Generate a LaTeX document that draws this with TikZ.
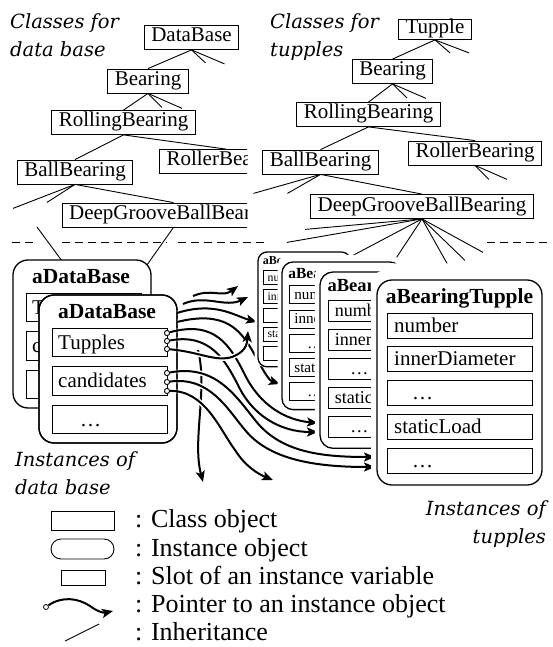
\documentclass[tikz,border=0pt]{standalone}
\usepackage{fontspec}
\setmainfont{Liberation Serif}
\newfontfamily\capfont{DejaVu Serif}
\usetikzlibrary{arrows.meta, calc}

\tikzset{
  cls/.style={draw, line width=0.8pt, font=\fontsize{21}{24}\selectfont, inner xsep=7pt, inner ysep=2.5pt, text height=14pt, text depth=5pt},
  inh/.style={line width=0.9pt},
  inst/.style={draw, line width=1.3pt, rounded corners=#1, fill=white},
  slot/.style={draw, line width=1pt, fill=white},
  slottxt/.style={font=\fontsize{21}{24}\selectfont, anchor=base west, inner sep=0pt},
  ttl/.style={font=\bfseries\fontsize{21.5}{24}\selectfont, anchor=base, inner sep=0pt},
  ptr/.style={line width=2pt, -{Stealth[length=11pt,width=9pt,inset=2.5pt]}, preaction={draw=white, line width=5pt, -}},
  hole/.style={draw, circle, line width=0.8pt, fill=white, inner sep=0pt, minimum size=5pt},
  lbl/.style={font=\capfont\itshape\fontsize{19.5}{28}\selectfont, inner sep=0pt},
  sep/.style={line width=0.9pt, dash pattern=on 8pt off 5pt},
  key/.style={font=\fontsize{26}{30}\selectfont, anchor=base west, inner sep=0pt}
}

% one instance of a tupple: name, x, y, scale, corner
\newcommand\tupleinst[5]{%
  \begin{scope}[shift={(#2,#3)}, scale=#4, transform shape]
    \fill[white, rounded corners=#5] (-6,-10) rectangle (165,205);
    \draw[inst=#5] (0,0) rectangle (165,205);
    \node[ttl] (#1-t) at (82.5,23) {aBearingTupple};
    \foreach \i/\txt/\dx in {0/number/7, 1/innerDiameter/7, 2/\dots/25, 3/staticLoad/7, 4/\dots/25} {
      \draw[slot] (10,33+33.75*\i) rectangle (155,58+33.75*\i);
      \node[slottxt] (#1-s\i) at (10+\dx,52+33.75*\i) {\txt};
    }
  \end{scope}}

% one instance of the data base: name, x, y
\newcommand\dbinst[3]{%
  \begin{scope}[shift={(#2,#3)}]
    \draw[inst=15pt] (0,0) rectangle (138,148);
    \node[ttl] (#1-t) at (68,23) {aDataBase};
    \foreach \i/\txt/\dx in {0/Tupples/6, 1/candidates/6, 2/\dots/28} {
      \draw[slot] (13,33+38.5*\i) rectangle (128,61.5+38.5*\i);
      \node[slottxt] (#1-s\i) at (13+\dx,54+38.5*\i) {\txt};
    }
  \end{scope}}

\begin{document}
\begin{tikzpicture}[x=1pt, y=-1pt]
\useasboundingbox (0,0) rectangle (552,647);

% classes for the data base
\node[lbl, anchor=north west, align=left] (lcap) at (10,13) {Classes for\\data base};
\begin{scope}
  \clip (0,0) rectangle (247,236);
  \node[cls] (ldb) at (191.5,37.5) {DataBase};
  \node[cls] (lbear) at (148,81) {Bearing};
  \node[cls] (lroll) at (123.5,122.5) {RollingBearing};
  \node[cls] (lball) at (75,172) {BallBearing};
  \node[cls] (lroller) at (226,161.5) {RollerBearing};
  \node[cls] (ldeep) at (173.5,215) {DeepGrooveBallBearing};
  \draw[inh] (ldb.south) -- (lbear.north);
  \draw[inh] (lbear.south) -- (lroll.north);
  \draw[inh] (lroll.south) -- (lball.north);
  \draw[inh] (lroll.south) -- (lroller.north);
  \draw[inh] (lball.south) -- (ldeep.north);
  \foreach \src/\dx/\dy in {ldb/14/13, ldb/33/14, lbear/14/14, lbear/34/15, lball/-62/24, lball/-28/18}
    \draw[inh] (\src.south) -- ++(\dx,\dy);
\end{scope}

% classes for the tupples
\node[lbl, anchor=north west, align=left] (rcap) at (270,13) {Classes for\\tupples};
\node[cls, inner ysep=0.5pt] (rtup) at (435,29.5) {Tupple};
\node[cls] (rbear) at (392.5,71.5) {Bearing};
\node[cls] (rroll) at (368.5,114.5) {RollingBearing};
\node[cls] (rball) at (320.5,162) {BallBearing};
\node[cls] (rroller) at (475,153) {RollerBearing};
\node[cls] (rdeep) at (422,206.5) {DeepGrooveBallBearing};
\draw[inh] (rtup.south) -- (rbear.north);
\draw[inh] (rbear.south) -- (rroll.north);
\draw[inh] (rroll.south) -- (rball.north);
\draw[inh] (rroll.south) -- (rroller.north);
\draw[inh] (rball.south) -- (rdeep.north);
\foreach \src/\dx/\dy in {rtup/15/13, rtup/34/13, rbear/14.5/14, rbear/33.5/14.5, rroller/14/14, rroller/32/14, rball/-67/19, rball/-33/19}
  \draw[inh] (\src.south) -- ++(\dx,\dy);
\foreach \dx/\dy in {-117/10.5, -135/23.5, -87/46, -37/56, 36/64, 43/41.5, 61/33.5}
  \draw[inh] (rdeep.south) -- ++(\dx,\dy);

% border between classes and instances
\draw[sep] (12,242) -- (35,242) (62,242) -- (167,242) (178,242) -- (268,242) (487,242) -- (548,242);

% instances of the data base
\coordinate (lfree) at (37,227);
\draw[inh] (lfree) -- (62,261);
\draw[inh] (ldeep.south) -- (125,296);
\dbinst{dbA}{13}{260}
\dbinst{dbB}{39}{295}
\node[lbl, anchor=north west, align=left] (dbcap) at (15,451) {Instances of\\data base};

% pointers
\foreach \k/\y in {1/333, 2/341, 3/349, 4/373, 5/382, 6/391}
  \node[hole] (c\k) at (167,\y) {};
\coordinate (f1) at (193,296);
\coordinate (f2) at (183,304);
\coordinate (f3) at (177,313);
\coordinate (f4) at (177,322);
\coordinate (f5) at (198,350);
\coordinate (t1) at (238,286);
\coordinate (t2) at (248,297);
\coordinate (t3) at (257,322);
\coordinate (t4) at (280,384);
\coordinate (t5) at (318,423);
\coordinate (t6) at (318,432);
\coordinate (t7) at (248,331);
\coordinate (t8) at (375,457);
\coordinate (t9) at (375,467);
\coordinate (t10) at (273,480);
\coordinate (t11) at (203,482);

\draw[ptr] (f5) .. controls (208,390) and (192,440) .. (t11);
\draw[ptr] (f1) .. controls (212,288) and (222,298) .. (t1);
\draw[ptr] (f2) .. controls (205,294) and (225,308) .. (t2);
\draw[ptr] (f3) .. controls (215,301) and (235,316) .. (t3);
\draw[ptr] (f4) .. controls (225,310) and (240,330) .. (252,350) .. controls (262,368) and (268,380) .. (t4);
\draw[ptr] (c1) .. controls (215,320) and (230,345) .. (245,375) .. controls (260,405) and (285,420) .. (t5);
\draw[ptr] (c2) .. controls (210,333) and (225,360) .. (238,385) .. controls (252,415) and (280,432) .. (t6);
\draw[ptr] (c3) .. controls (200,352) and (215,362) .. (232,357) .. controls (245,352) and (247,345) .. (t7);
\draw[ptr] (c4) .. controls (215,364) and (235,395) .. (255,420) .. controls (280,452) and (320,457) .. (t8);
\draw[ptr] (c5) .. controls (210,376) and (228,410) .. (245,430) .. controls (268,458) and (310,467) .. (t9);
\draw[ptr] (c6) .. controls (205,390) and (220,430) .. (235,450) .. controls (245,466) and (258,474) .. (t10);
\draw[line width=1.3pt, rounded corners=15pt] (39,295) rectangle (177,443);
\foreach \k/\y in {1/333, 2/341, 3/349, 4/373, 5/382, 6/391}
  \node[hole] (d\k) at (167,\y) {};

% instances of the tupples
\tupleinst{tpA}{258}{252}{0.56}{9pt}
\tupleinst{tpB}{282}{262}{0.72}{11pt}
\tupleinst{tpC}{320}{272}{0.86}{13pt}
\tupleinst{tpD}{377}{280}{1}{15pt}
\node[lbl, anchor=north east, align=right] (tpcap) at (546,500) {Instances of\\tupples};

% legend
\draw[line width=0.8pt] (51,511) rectangle (114,530);
\draw[line width=0.9pt, rounded corners=10pt] (51,539) rectangle (114,559);
\draw[line width=0.8pt] (61,570) rectangle (105,585);
\node[hole] (kc) at (46,607) {};
\coordinate (kt) at (113,611);
\draw[ptr] (kc) .. controls (62,596) and (78,598) .. (90,606) .. controls (98,612) and (104,613) .. (kt);
\coordinate (ka) at (65,641);
\coordinate (kb) at (99,624);
\draw[inh] (ka) -- (kb);
\node[key] (k1) at (135,527) {: Class object};
\node[key] (k2) at (135,556) {: Instance object};
\node[key] (k3) at (135,584) {: Slot of an instance variable};
\node[key] (k4) at (135,612) {: Pointer to an instance object};
\node[key] (k5) at (135,640) {: Inheritance};

\end{tikzpicture}
\end{document}
